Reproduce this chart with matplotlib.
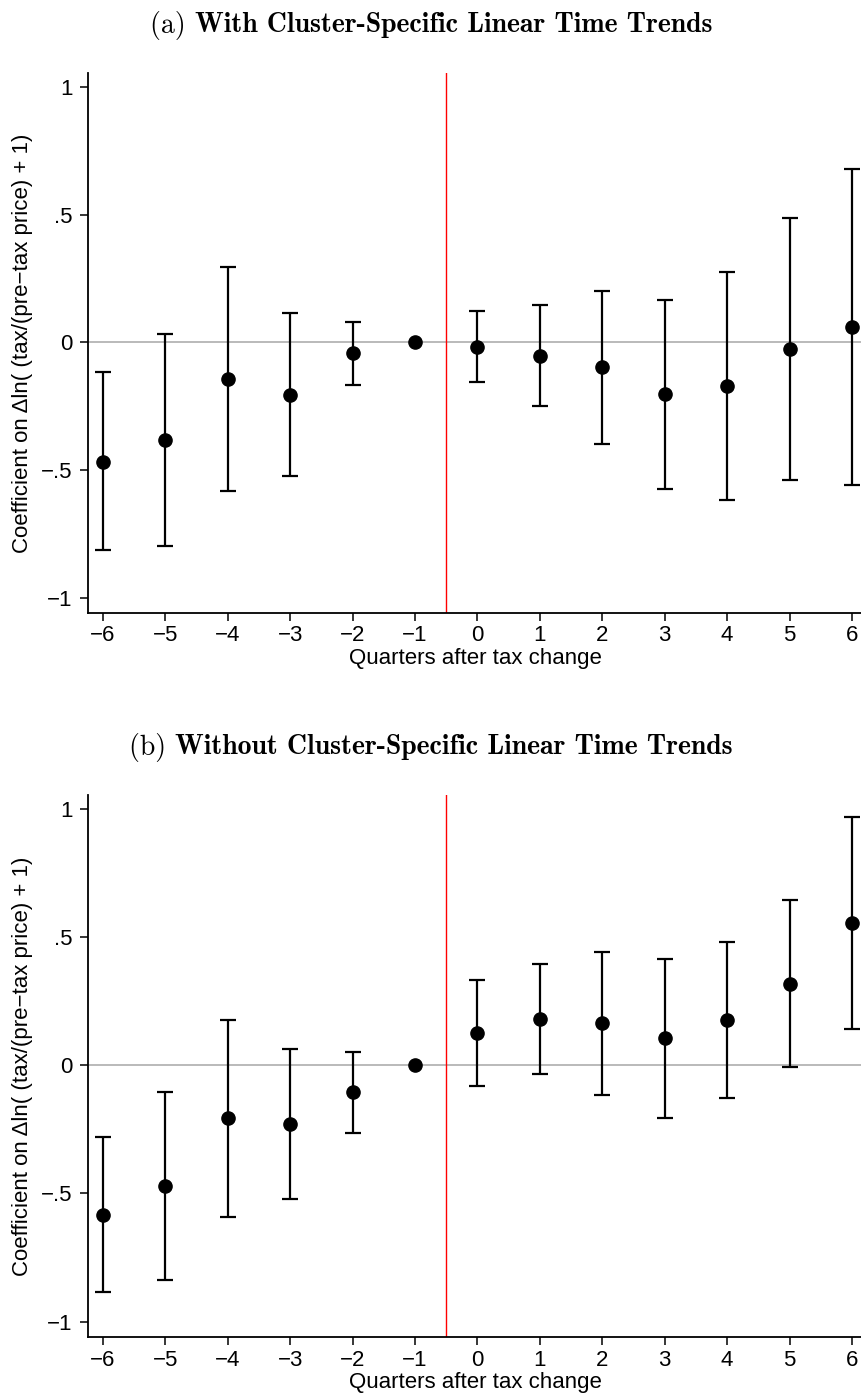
import matplotlib
matplotlib.use("Agg")
import numpy as np
import matplotlib.pyplot as plt
from matplotlib.offsetbox import TextArea, HPacker, AnchoredOffsetbox

# Event-study coefficients
quarters = [-6, -5, -4, -3, -2, -1, 0, 1, 2, 3, 4, 5, 6]

# (a) with cluster-specific linear time trends
coef_a = [-0.467, -0.383, -0.145, -0.205, -0.043, 0.0, -0.018, -0.053, -0.098, -0.203, -0.169, -0.026, 0.061]
lo_a = [-0.815, -0.797, -0.584, -0.524, -0.166, 0.0, -0.157, -0.248, -0.399, -0.573, -0.616, -0.541, -0.557]
hi_a = [-0.117, 0.031, 0.295, 0.114, 0.079, 0.0, 0.121, 0.145, 0.203, 0.164, 0.277, 0.488, 0.679]

# (b) without cluster-specific linear time trends
coef_b = [-0.582, -0.472, -0.206, -0.229, -0.105, 0.0, 0.126, 0.182, 0.165, 0.105, 0.176, 0.319, 0.557]
lo_b = [-0.883, -0.837, -0.590, -0.521, -0.263, 0.0, -0.081, -0.032, -0.117, -0.205, -0.128, -0.007, 0.141]
hi_b = [-0.280, -0.105, 0.176, 0.063, 0.052, 0.0, 0.332, 0.397, 0.444, 0.416, 0.482, 0.645, 0.970]

y_ticks = [-1, -0.5, 0, 0.5, 1]
y_ticklabels = ["\u22121", "\u2212.5", "0", ".5", "1"]
x_ticklabels = [str(q).replace("-", "\u2212") for q in quarters]

panel_tags = ["(a)", "(b)"]
panel_titles = ["With Cluster-Specific Linear Time Trends",
                "Without Cluster-Specific Linear Time Trends"]
xlabel = "Quarters after tax change"
ylabel = "Coefficient on \u0394ln( (tax/(pre\u2212tax price) + 1)"
event_line = -0.5

plt.rcParams['font.family'] = ['Liberation Sans', 'DejaVu Sans']
font_size = 16
title_size = 20

fig = plt.figure(figsize=(8.62, 13.95), dpi=100)

# axes rectangles in figure fraction (left, bottom, width, height)
rects = [[88 / 862, 1 - 613 / 1395, 1 - 88 / 862, 540 / 1395],
         [88 / 862, 1 - 1337 / 1395, 1 - 88 / 862, 542 / 1395]]
title_y = [1 - 25 / 1395, 1 - 747 / 1395]

panels = [(coef_a, lo_a, hi_a), (coef_b, lo_b, hi_b)]

for i, (coef, lo, hi) in enumerate(panels):
    ax = fig.add_axes(rects[i])
    coef = np.asarray(coef)
    yerr = [coef - np.asarray(lo), np.asarray(hi) - coef]

    ax.axhline(0, color='#b4b4b4', lw=1.3, zorder=1)
    ax.axvline(event_line, color='red', lw=1.0, zorder=2)

    # the omitted period (-1) has no interval: draw it as a plain dot
    has_ci = np.asarray(hi) != np.asarray(lo)
    q = np.asarray(quarters)
    ax.errorbar(q[has_ci], coef[has_ci],
                yerr=[yerr[0][has_ci], yerr[1][has_ci]],
                fmt='none', ecolor='black', elinewidth=1.6,
                capsize=6, capthick=1.6, zorder=3)
    ax.plot(q, coef, 'o', color='black', markersize=9.5, zorder=4)

    ax.set_xlim(-6.24, 6.16)
    ax.set_ylim(-1.06, 1.055)
    ax.set_xticks(quarters)
    ax.set_xticklabels(x_ticklabels)
    ax.set_yticks(y_ticks)
    ax.set_yticklabels(y_ticklabels)
    ax.tick_params(direction='out', length=6, width=1.1, labelsize=font_size,
                   color='black')
    ax.tick_params(axis='x', pad=3)
    ax.tick_params(axis='y', pad=5)

    for side in ['top', 'right']:
        ax.spines[side].set_visible(False)
    for side in ['left', 'bottom']:
        ax.spines[side].set_linewidth(1.3)

    ax.set_xlabel(xlabel, fontsize=font_size, labelpad=1)
    ax.set_ylabel(ylabel, fontsize=font_size, labelpad=6)

    # title: normal tag followed by bold text, computer modern look
    tag = TextArea(panel_tags[i] + " ", textprops=dict(fontfamily='cmr10', fontsize=title_size))
    txt = TextArea(panel_titles[i], textprops=dict(fontfamily='cmb10', fontsize=title_size))
    box = HPacker(children=[tag, txt], align='baseline', pad=0, sep=0)
    anchored = AnchoredOffsetbox(loc='center', child=box, pad=0, borderpad=0,
                                 frameon=False, bbox_to_anchor=(0.5, title_y[i]),
                                 bbox_transform=fig.transFigure)
    fig.add_artist(anchored)

fig.savefig("out.png", dpi=100)
